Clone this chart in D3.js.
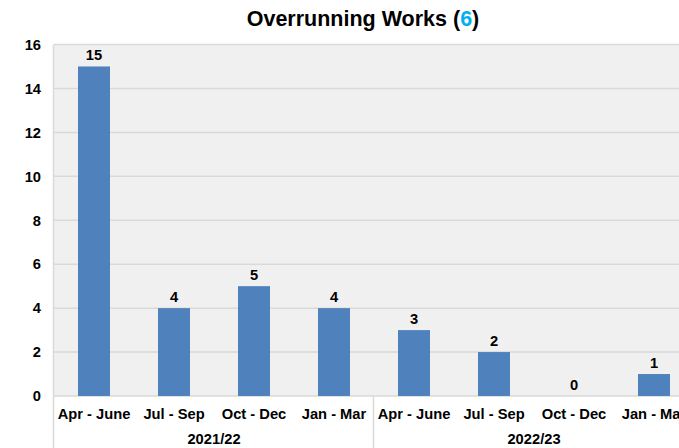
<!DOCTYPE html>
<html lang="en">
<head>
<meta charset="UTF-8">
<title>Overrunning Works</title>
<script src="https://d3js.org/d3.v7.min.js"></script>
<style>
body { margin: 0; background: #fff; }
svg { display: block; font-family: "Liberation Sans", Arial, sans-serif; }
.grid line { stroke: #d9d9d9; stroke-width: 1.5; }
.lbl { font-weight: bold; font-size: 14.7px; fill: #000; }
</style>
</head>
<body>
<div id="container"></div>
<script>
// Data
const quarters = ["Apr - June", "Jul - Sep", "Oct - Dec", "Jan - Mar", "Apr - June", "Jul - Sep", "Oct - Dec", "Jan - Mar"];
const years = ["2021/22", "2022/23"];
const values = [15, 4, 5, 4, 3, 2, 0, 1];
const yTicks = [0, 2, 4, 6, 8, 10, 12, 14, 16];
const titleText = "Overrunning Works (";
const titleCount = "6";

const width = 679, height = 448;
const svg = d3.select("#container").append("svg")
    .attr("width", width).attr("height", height);

const plotLeft = 54, plotRight = 694, plotTop = 44.5, plotBottom = 396;

const x = d3.scaleBand().domain(d3.range(values.length))
    .range([plotLeft, plotRight]).paddingInner(0.6).paddingOuter(0.3);
const y = d3.scaleLinear().domain([0, 16]).range([plotBottom, plotTop]);

// plot background
svg.append("rect").attr("x", plotLeft).attr("y", plotTop)
    .attr("width", plotRight - plotLeft).attr("height", plotBottom - plotTop)
    .attr("fill", "#f0f0f0");

// gridlines
svg.append("g").attr("class", "grid")
  .selectAll("line").data(yTicks).join("line")
    .attr("x1", plotLeft).attr("x2", plotRight)
    .attr("y1", d => y(d)).attr("y2", d => y(d));

// y labels
svg.append("g").selectAll("text").data(yTicks).join("text")
    .attr("class", "lbl")
    .attr("x", 41).attr("y", d => y(d)).attr("dy", "0.36em")
    .attr("text-anchor", "end")
    .text(d => d);

// bars
svg.append("g").selectAll("rect").data(values).join("rect")
    .attr("x", (d, i) => x(i)).attr("width", x.bandwidth())
    .attr("y", d => y(d)).attr("height", d => y(0) - y(d))
    .attr("fill", "#4f81bd");

// value labels
svg.append("g").selectAll("text").data(values).join("text")
    .attr("class", "lbl")
    .attr("x", (d, i) => x(i) + x.bandwidth() / 2)
    .attr("y", d => y(d) - 6.5)
    .attr("text-anchor", "middle")
    .text(d => d);

// category axis lines
const step = x.step();
svg.append("line").attr("x1", plotLeft - 0.5).attr("x2", plotLeft - 0.5)
    .attr("y1", plotTop).attr("y2", height).attr("stroke", "#d9d9d9").attr("stroke-width", 1.5);
svg.append("line").attr("x1", plotLeft + 4 * step - 0.5).attr("x2", plotLeft + 4 * step - 0.5)
    .attr("y1", plotBottom).attr("y2", height).attr("stroke", "#d9d9d9").attr("stroke-width", 1.5);

// quarter labels
svg.append("g").selectAll("text").data(quarters).join("text")
    .attr("class", "lbl")
    .attr("x", (d, i) => x(i) + x.bandwidth() / 2)
    .attr("y", 419)
    .attr("text-anchor", "middle")
    .text(d => d);

// year labels
svg.append("g").selectAll("text").data(years).join("text")
    .attr("class", "lbl")
    .attr("x", (d, i) => plotLeft + step * (i * 4 + 2))
    .attr("y", 444)
    .attr("text-anchor", "middle")
    .text(d => d);

// title
const t = svg.append("text")
    .attr("x", 363).attr("y", 26)
    .attr("text-anchor", "middle")
    .style("font-weight", "bold").style("font-size", "21.5px");
t.append("tspan").text(titleText);
t.append("tspan").attr("fill", "#00b0f0").text(titleCount);
t.append("tspan").text(")");
</script>
</body>
</html>
